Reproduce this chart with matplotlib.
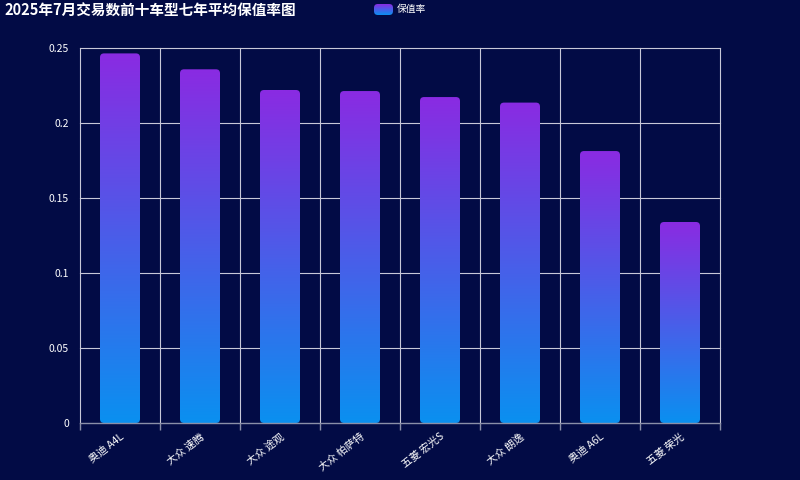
import numpy as np
import matplotlib
matplotlib.use("Agg")
from matplotlib import pyplot as plt
from matplotlib.patches import FancyBboxPatch
from matplotlib.colors import LinearSegmentedColormap

plt.rcParams['font.family'] = ['Noto Sans CJK SC', 'DejaVu Sans']

# data
models = ['奥迪 A4L', '大众 速腾', '大众 途观', '大众 帕萨特', '五菱 宏光S',
          '大众 朗逸', '奥迪 A6L', '五菱 荣光']
retention = [0.2464, 0.2358, 0.2220, 0.2213, 0.2173, 0.2136, 0.1813, 0.1340]
yticks = [0, 0.05, 0.1, 0.15, 0.2, 0.25]
ytick_labels = ['0', '0.05', '0.1', '0.15', '0.2', '0.25']

bg = '#020b45'
grid_c = '#c8c8d8'
cmap = LinearSegmentedColormap.from_list('bar', ['#0a90f0', '#8a2be2'])

fig = plt.figure(figsize=(8, 4.8), dpi=100, facecolor=bg)
ax = fig.add_axes([0.1, 0.11875, 0.8, 0.78125], facecolor=bg)

x = np.arange(len(models))
bars = ax.bar(x, retention, width=0.5, color='none', edgecolor='none', zorder=3)

ax.set_xlim(-0.5, len(models) - 0.5)
ax.set_ylim(0, 0.25)

# gradient fill per bar, clipped to a rounded box
grad = np.linspace(0, 1, 256).reshape(-1, 1)
aspect = (0.25 / 375) / (1 / 80)
for b in bars:
    x0, w, h = b.get_x(), b.get_width(), b.get_height()
    patch = FancyBboxPatch((x0, 0), w, h, boxstyle='round,pad=0,rounding_size=0.05',
                           mutation_aspect=aspect, facecolor='none', edgecolor='none',
                           transform=ax.transData)
    ax.add_patch(patch)
    im = ax.imshow(grad, cmap=cmap, origin='lower', aspect='auto',
                   extent=(x0, x0 + w, 0, h), zorder=3)
    im.set_clip_path(patch)

ax.set_xlim(-0.5, len(models) - 0.5)
ax.set_ylim(0, 0.25)

# grid: horizontal at y ticks, vertical at category boundaries
for yv in yticks[1:]:
    ax.axhline(yv, color=grid_c, lw=0.8, zorder=1, clip_on=False)
for xb in np.arange(-0.5, len(models) + 0.5, 1):
    ax.axvline(xb, color=grid_c, lw=0.8, zorder=1, clip_on=False)

for s in ['top', 'right', 'left']:
    ax.spines[s].set_visible(False)
ax.spines['bottom'].set_color('#8a8fa8')
ax.spines['bottom'].set_linewidth(1)
ax.spines['bottom'].set_zorder(4)

ax.set_yticks(yticks)
ax.set_yticklabels(ytick_labels, color='white', fontsize=7.5)
ax.tick_params(axis='y', length=0, pad=8)

ax.set_xticks(x)
ax.set_xticklabels(models, rotation=38, ha='right', rotation_mode='anchor',
                   color='white', fontsize=7.5)
ax.tick_params(axis='x', length=0, pad=6)
ax.set_xticks(np.arange(-0.5, len(models) + 0.5, 1), minor=True)
ax.tick_params(axis='x', which='minor', length=5, color='#8a8fa8', width=1)

fig.text(0.006, 0.978, '2025年7月交易数前十车型七年平均保值率图', color='white',
         fontsize=10.5, fontweight='bold', va='center', ha='left')

# legend: gradient rounded icon + label
lax = fig.add_axes([374 / 800, 1 - 15 / 480, 19 / 800, 11 / 480])
lax.set_xlim(0, 1)
lax.set_ylim(0, 1)
lax.axis('off')
icon = FancyBboxPatch((0, 0), 1, 1, boxstyle='round,pad=0,rounding_size=0.2',
                      mutation_aspect=19 / 11, facecolor='none', edgecolor='none')
lax.add_patch(icon)
li = lax.imshow(grad, cmap=cmap, origin='lower', aspect='auto', extent=(0, 1, 0, 1))
li.set_clip_path(icon)
fig.text(397 / 800, 1 - 9 / 480, '保值率', color='white', fontsize=7, va='center', ha='left')

fig.savefig('out.png', dpi=100, facecolor=bg)
